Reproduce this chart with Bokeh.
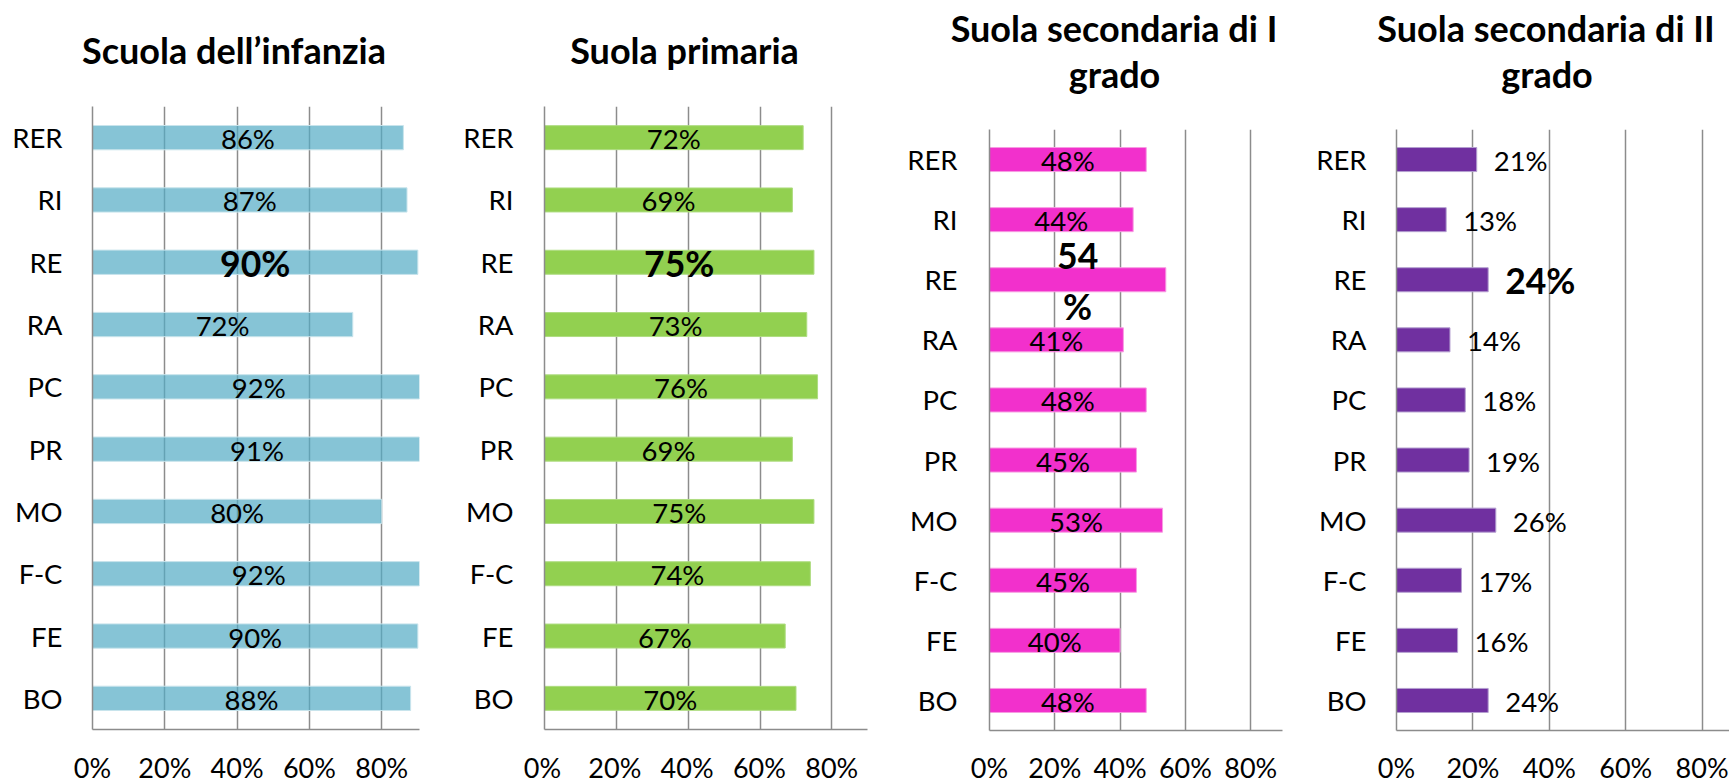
from bokeh.plotting import figure
from bokeh.layouts import row, column
from bokeh.models import FactorRange, Range1d, FixedTicker, ColumnDataSource
from bokeh.embed import file_html
from bokeh.resources import INLINE
from bokeh.core.properties import value

# ---------------- data ----------------
categories = ["RER", "RI", "RE", "RA", "PC", "PR", "MO", "F-C", "FE", "BO"]
infanzia = [0.86, 0.87, 0.90, 0.72, 0.92, 0.91, 0.80, 0.92, 0.90, 0.88]
primaria = [0.72, 0.69, 0.75, 0.73, 0.76, 0.69, 0.75, 0.74, 0.67, 0.70]
secondaria_1 = [0.48, 0.44, 0.54, 0.41, 0.48, 0.45, 0.53, 0.45, 0.40, 0.48]
secondaria_2 = [0.21, 0.13, 0.24, 0.14, 0.18, 0.19, 0.26, 0.17, 0.16, 0.24]
highlight = "RE"
x_ticks = [0, 0.2, 0.4, 0.6, 0.8]
titles = [
    ["Scuola dell\u2019infanzia"],
    ["Suola primaria"],
    ["Suola secondaria di I", "grado"],
    ["Suola secondaria di II", "grado"],
]
series = [infanzia, primaria, secondaria_1, secondaria_2]

# ---------------- style ----------------
FONT = "Lato"
TOTAL_H = 783
TITLE_H = 104
GRID = "#8c8c8c"

panels = [
    dict(width=460, bl=92, br=41, bt=2, ph=627, ppu=361.5,
         fill="#52ABC4", alpha=0.7, line="#C8E4EC", bar_h=0.39, mode="center",
         ystand=30, tx=[141.5], ty=[49]),
    dict(width=440, bl=82, br=33, bt=2, ph=627, ppu=361.5,
         fill="#92D050", alpha=1.0, line="#AEDC80", bar_h=0.385, mode="center",
         ystand=31, tx=[142], ty=[49]),
    dict(width=410, bl=89, br=28, bt=25, ph=628, ppu=326.5,
         fill="#F230CC", alpha=1.0, line="#F79BE2", bar_h=0.4, mode="wrap",
         ystand=32, tx=[124.5, 125], ty=[27.5, 73]),
    dict(width=419, bl=86, br=0, bt=25, ph=628, ppu=382.0,
         fill="#7030A0", alpha=1.0, line="#B49FD0", bar_h=0.4, mode="end",
         ystand=30, tx=[149.5, 150.5], ty=[27.5, 73]),
]
TICK_ANCHOR_Y = 766.5   # y (from top of the layout) of the tick-label anchor


def strip(width, height, x_range):
    s = figure(width=width, height=height, x_range=x_range, y_range=Range1d(height, 0),
               x_axis_type=None, y_axis_type=None, output_backend="svg",
               toolbar_location=None, min_border_left=0, min_border_right=0,
               min_border_top=0, min_border_bottom=0, frame_align=False)
    s.outline_line_color = None
    s.grid.visible = False
    return s


def make_panel(vals, ttl, cfg):
    W = cfg["width"]
    frame_w = W - cfg["bl"] - cfg["br"]
    x_end = frame_w / cfg["ppu"]

    # ---- title strip
    t = strip(W, TITLE_H, Range1d(0, W))
    tsrc = ColumnDataSource(dict(x=[cfg["bl"] + v for v in cfg["tx"]], y=cfg["ty"], t=ttl))
    t.text(x="x", y="y", text="t", source=tsrc, text_font=value(FONT),
           text_font_style="bold", text_font_size="36px", text_align="center",
           text_baseline="middle", text_color="black")

    # ---- main chart
    p = figure(width=W, height=cfg["ph"],
               y_range=FactorRange(factors=categories[::-1]),
               x_range=Range1d(0, x_end),
               output_backend="svg", toolbar_location=None,
               min_border_left=cfg["bl"], min_border_right=cfg["br"],
               min_border_top=cfg["bt"], min_border_bottom=2, frame_align=False)
    p.outline_line_color = None

    src = ColumnDataSource(dict(cat=categories, val=vals))
    p.hbar(y="cat", left=0, right="val", height=cfg["bar_h"], source=src,
           fill_color=cfg["fill"], fill_alpha=cfg["alpha"],
           line_color=cfg["line"], line_width=1)

    norm_c = [c for c in categories if c != highlight]
    norm_v = [v for c, v in zip(categories, vals) if c != highlight]
    bold_c = [c for c in categories if c == highlight]
    bold_v = [v for c, v in zip(categories, vals) if c == highlight]

    if cfg["mode"] == "end":
        lx_n, lx_b, align, xoff = list(norm_v), list(bold_v), "left", 17
    else:
        lx_n, lx_b, align, xoff = [v / 2 for v in norm_v], [v / 2 for v in bold_v], "center", 0

    sn = ColumnDataSource(dict(x=lx_n, y=norm_c, t=[f"{round(v*100)}%" for v in norm_v]))
    p.text(x="x", y="y", text="t", source=sn, text_font=value(FONT),
           text_font_size="27.5px", text_align=align, text_baseline="middle",
           x_offset=xoff, y_offset=1, text_color="black")

    if cfg["mode"] == "wrap":
        s1 = ColumnDataSource(dict(x=lx_b, y=bold_c, t=[f"{round(v*100)}" for v in bold_v]))
        s2 = ColumnDataSource(dict(x=lx_b, y=bold_c, t=["%" for v in bold_v]))
        for s, yo in ((s1, -24), (s2, 27)):
            p.text(x="x", y="y", text="t", source=s, text_font=value(FONT),
                   text_font_style="bold", text_font_size="35.5px", text_align="center",
                   text_baseline="middle", y_offset=yo, text_color="black")
    else:
        sb = ColumnDataSource(dict(x=lx_b, y=bold_c, t=[f"{round(v*100)}%" for v in bold_v]))
        p.text(x="x", y="y", text="t", source=sb, text_font=value(FONT),
               text_font_style="bold", text_font_size="35.5px", text_align=align,
               text_baseline="middle", x_offset=xoff, y_offset=1, text_color="black")

    # axes: x axis only draws its line; its labels are in the strip below
    p.xaxis.ticker = FixedTicker(ticks=[])
    for ax in (p.xaxis, p.yaxis):
        ax.major_tick_line_color = None
        ax.minor_tick_line_color = None
        ax.major_tick_out = 0
        ax.major_tick_in = 0
        ax.minor_tick_out = 0
        ax.minor_tick_in = 0
        ax.axis_line_color = GRID
        ax.axis_line_width = 1.5
    p.xaxis.major_label_standoff = 0
    p.yaxis.major_label_text_font = FONT
    p.yaxis.major_label_text_color = "black"
    p.yaxis.major_label_text_font_size = "27.5px"
    p.yaxis.major_label_standoff = cfg["ystand"]

    p.xgrid.ticker = FixedTicker(ticks=x_ticks)
    p.xgrid.grid_line_color = GRID
    p.xgrid.grid_line_width = 1.5
    p.ygrid.grid_line_color = None

    # ---- tick-label strip, same pixel scale as the chart
    bh = TOTAL_H - TITLE_H - cfg["ph"]
    b = strip(W, bh, Range1d(-cfg["bl"] / cfg["ppu"], (W - cfg["bl"]) / cfg["ppu"]))
    y0 = TICK_ANCHOR_Y - TITLE_H - cfg["ph"]
    bsrc = ColumnDataSource(dict(x=x_ticks, y=[y0] * len(x_ticks),
                                 t=[f"{round(v*100)}%" for v in x_ticks]))
    b.text(x="x", y="y", text="t", source=bsrc, text_font=value(FONT),
           text_font_size="27px", text_align="center", text_baseline="middle",
           text_color="black")

    return column(t, p, b, spacing=0)


cols = [make_panel(v, t, c) for v, t, c in zip(series, titles, panels)]
layout = row(*cols, spacing=0)

open("out.html", "w").write(file_html(layout, INLINE))
